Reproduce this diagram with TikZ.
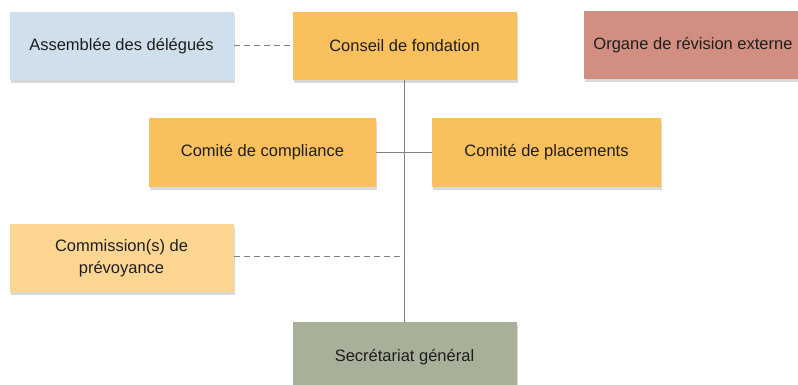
\documentclass[tikz,border=0pt]{standalone}
\usepackage{fontspec}
\setmainfont{Liberation Sans}
\usetikzlibrary{shadows}

\definecolor{bleuclair}{HTML}{CFE0EC}
\definecolor{orangebox}{HTML}{FBC05E}
\definecolor{orangeclair}{HTML}{FDD692}
\definecolor{rougebox}{HTML}{D28E80}
\definecolor{vertgris}{HTML}{A8B09A}
\definecolor{trait}{HTML}{808080}
\definecolor{texte}{HTML}{1E1E1E}

\tikzset{
  boite/.style={minimum width=224pt, minimum height=68pt, inner sep=0pt,
    align=center, text=texte, font=\fontsize{16.5pt}{22pt}\selectfont,
    drop shadow={shadow xshift=1pt, shadow yshift=-3pt, opacity=0.3}},
  lien/.style={draw=trait, line width=1pt},
  pointille/.style={lien, dash pattern=on 6pt off 4pt}
}

\begin{document}
\begin{tikzpicture}[x=1pt, y=-1pt]
\useasboundingbox (0, 0) rectangle (798, 385);

\node (assemblee) at (121.5, 46) [boite, fill=bleuclair] {Assemblée des délégués};
\node (conseil) at (404.5, 46) [boite, fill=orangebox] {Conseil de fondation};
\node (organe) at (693, 45.5) [boite, minimum width=218pt, fill=rougebox] {Organe de révision externe};
\node (compliance) at (262.5, 152.5) [boite, minimum width=227pt, fill=orangebox] {Comité de compliance};
\node (placements) at (546.5, 152.5) [boite, minimum width=229pt, fill=orangebox] {Comité de placements};
\node (commission) at (121.5, 258) [boite, fill=orangeclair] {Commission(s) de\\prévoyance};
\node (secretariat) at (404.5, 357) [boite, minimum height=70pt, fill=vertgris] {Secrétariat général};
\coordinate (jonction) at (404.5, 256.5);

\draw [pointille] (assemblee) -- (conseil);
\draw [lien] (conseil) -- (secretariat);
\draw [lien] (compliance) -- (placements);
\draw [pointille] (commission.east |- jonction) -- (jonction);
\end{tikzpicture}
\end{document}
